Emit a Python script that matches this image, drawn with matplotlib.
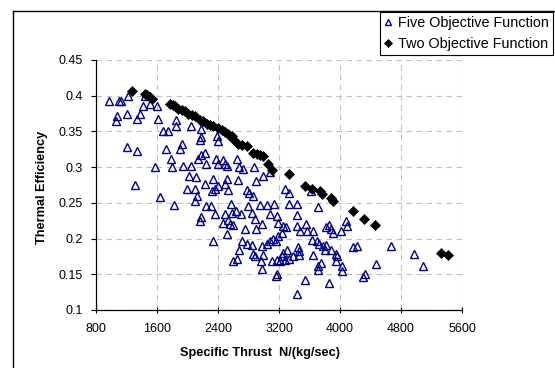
import matplotlib
matplotlib.use("Agg")
import matplotlib.pyplot as plt
from matplotlib.lines import Line2D

plt.rcParams['font.family'] = ['Liberation Sans', 'DejaVu Sans']

# ---- data ----
five_x = [967, 1071, 1062, 1098, 1132, 1210, 1220, 1210, 1342, 1315,
          1342, 1373, 1416, 1439, 1504, 1600, 1613, 1570, 1635, 1675,
          1744, 1714, 1788, 1797, 1849, 1849, 1928, 1906, 1941, 2042,
          2042, 2016, 1993, 2115, 2094, 2121, 2181, 2173, 2160, 2138,
          2181, 2233, 2247, 2226,
          1823, 2102, 2239, 2173, 2167,
          2383, 2404, 2374, 2462, 2404, 2492, 2514, 2653, 2679, 2724,
          2872, 2985, 3082, 2330, 2404, 2361, 2316, 2492, 2522, 2535,
          2666, 2776, 2811, 2864, 2898, 3279, 3335, 3626,
          2308, 2361, 2492, 2580, 2570, 2636, 2698, 2797, 2842, 2951,
          3039, 3134, 3082, 3170, 3191, 2469, 2557, 2593, 2535, 2754,
          2885, 2898, 2973, 2330, 2522, 2711, 2776, 2842, 2679, 2653,
          2593, 2863, 2885, 2973, 3039, 3082, 2994, 2960, 2973, 3125,
          3161, 3191, 3235, 3257, 3292, 3103, 3169, 3235, 3213, 3279,
          3335, 3388, 3466, 3178, 3161, 3249, 3300, 3453, 3466, 3431,
          3431, 3475, 3554, 3563, 3650, 3628, 3693, 3650, 3335, 3431,
          3541, 3432, 3716, 3716,
          3716, 3728, 3781, 3816, 3803, 3878, 3816, 3860, 3878, 3904,
          4009, 4079, 4096, 3948, 3965, 3943, 3746, 4022, 4022, 4174,
          4227, 4472, 3860, 4297, 4328, 4665, 4971, 5093]
five_y = [0.393, 0.372, 0.364, 0.392, 0.393, 0.374, 0.399, 0.328, 0.323, 0.275,
          0.368, 0.375, 0.385, 0.400, 0.388, 0.386, 0.367, 0.300, 0.258, 0.350,
          0.350, 0.326, 0.311, 0.300, 0.366, 0.358, 0.333, 0.325, 0.302, 0.302,
          0.358, 0.288, 0.269, 0.286, 0.270, 0.260, 0.353, 0.342, 0.338, 0.311,
          0.317, 0.320, 0.304, 0.277,
          0.247, 0.253, 0.246, 0.230, 0.224,
          0.343, 0.336, 0.311, 0.310, 0.304, 0.304, 0.302, 0.311, 0.300, 0.297,
          0.300, 0.287, 0.293, 0.283, 0.273, 0.270, 0.266, 0.277, 0.284, 0.268,
          0.282, 0.268, 0.264, 0.260, 0.280, 0.269, 0.264, 0.267,
          0.246, 0.235, 0.234, 0.236, 0.249, 0.238, 0.234, 0.246, 0.236, 0.247,
          0.247, 0.248, 0.234, 0.231, 0.222, 0.222, 0.220, 0.219, 0.226, 0.214,
          0.228, 0.214, 0.220, 0.197, 0.206, 0.197, 0.193, 0.191, 0.184, 0.172,
          0.168, 0.179, 0.175, 0.189, 0.193, 0.196, 0.177, 0.168, 0.158, 0.200,
          0.197, 0.204, 0.208, 0.217, 0.216, 0.168, 0.170, 0.175, 0.168, 0.170,
          0.172, 0.175, 0.177, 0.151, 0.148, 0.180, 0.184, 0.188, 0.183, 0.233,
          0.217, 0.210, 0.220, 0.210, 0.210, 0.198, 0.197, 0.177, 0.248, 0.249,
          0.142, 0.123, 0.162, 0.156,
          0.244, 0.193, 0.189, 0.191, 0.184, 0.184, 0.216, 0.219, 0.214, 0.208,
          0.211, 0.224, 0.217, 0.178, 0.176, 0.169, 0.166, 0.162, 0.155, 0.188,
          0.189, 0.165, 0.138, 0.146, 0.150, 0.189, 0.178, 0.161]

two_x = [1268, 1443, 1473, 1508, 1530, 1770, 1806, 1836, 1880, 1924,
         1967, 2011, 2055, 2098, 2164, 2207, 2252, 2295, 2339, 2400,
         2449, 2492, 2535, 2580, 2601, 2666, 2711, 2776, 2863, 2908,
         2951, 2994, 3060, 3112, 3335, 3541, 3629, 3738, 3764, 3878,
         3912, 4167, 4315, 4463, 5321, 5416]
two_y = [0.407, 0.403, 0.401, 0.398, 0.395, 0.389, 0.387, 0.385, 0.382, 0.380,
         0.378, 0.375, 0.373, 0.371, 0.366, 0.364, 0.361, 0.359, 0.358, 0.355,
         0.352, 0.349, 0.346, 0.343, 0.340, 0.333, 0.331, 0.329, 0.320, 0.318,
         0.317, 0.316, 0.304, 0.296, 0.290, 0.273, 0.270, 0.266, 0.262, 0.257,
         0.253, 0.238, 0.228, 0.219, 0.180, 0.177]

x_ticks = [800, 1600, 2400, 3200, 4000, 4800, 5600]
y_ticks = [0.1, 0.15, 0.2, 0.25, 0.3, 0.35, 0.4, 0.45]
y_tick_labels = ["0.1", "0.15", "0.2", "0.25", "0.3", "0.35", "0.4", "0.45"]

W, H = 555, 368
fig = plt.figure(figsize=(W / 100, H / 100), dpi=100)
ax = fig.add_axes([96 / W, 1 - 310 / H, (462 - 96) / W, (310 - 60) / H])

ax.plot(five_x, five_y, linestyle='none', marker='^', markersize=5.5,
        markerfacecolor='none', markeredgecolor='#000080', markeredgewidth=1.0,
        label='Five Objective Function', zorder=3)
ax.plot(two_x, two_y, linestyle='none', marker='D', markersize=4.6,
        markerfacecolor='black', markeredgecolor='black', markeredgewidth=0.5,
        label='Two Objective Function', zorder=4)

ax.set_xlim(800, 5600)
ax.set_ylim(0.1, 0.45)
ax.set_xticks(x_ticks)
ax.set_xticklabels([str(v) for v in x_ticks])
ax.set_yticks(y_ticks)
ax.set_yticklabels(y_tick_labels)

ax.grid(True, color='#c0c0c0', linestyle=(0, (5, 4)), linewidth=0.8)
ax.set_axisbelow(True)
for s in ['top', 'right']:
    ax.spines[s].set_visible(False)
for s in ['left', 'bottom']:
    ax.spines[s].set_color('black')
    ax.spines[s].set_linewidth(0.9)

ax.tick_params(axis='x', direction='inout', length=5, width=0.8, pad=7,
               labelsize=9, colors='black')
ax.tick_params(axis='y', direction='out', length=3.5, width=0.8, pad=6,
               labelsize=9, colors='black')

fig.text(260 / W, 1 - 353 / H, 'Specific Thrust  N/(kg/sec)', ha='center', va='center',
         fontsize=9.2, fontweight='bold')
fig.text(42 / W, 1 - 187 / H, 'Thermal Efficiency', ha='center', va='center',
         rotation=90, fontsize=9.2, fontweight='bold')

# outer chart frame (partially visible)
fx, fy = 12.7 / W, 1 - 11 / H
fig.add_artist(Line2D([fx, fx], [0, fy], transform=fig.transFigure,
                      color='black', linewidth=1.0))
fig.add_artist(Line2D([fx, 1.0], [fy, fy], transform=fig.transFigure,
                      color='black', linewidth=1.0))

leg = ax.legend(loc='upper right', bbox_to_anchor=(553 / W, 1 - 12 / H),
                bbox_transform=fig.transFigure, borderaxespad=0,
                frameon=True, fancybox=False, edgecolor='black', framealpha=1,
                fontsize=10.4, handlelength=0.5, handletextpad=0.45,
                borderpad=0.28, labelspacing=0.5, markerscale=0.8)
leg.get_frame().set_linewidth(0.8)

fig.savefig('out.png', dpi=100)
